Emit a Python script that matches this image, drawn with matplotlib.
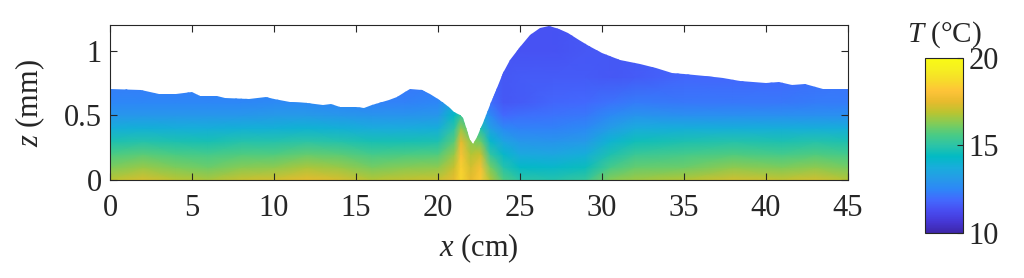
import numpy as np
import matplotlib
matplotlib.use("Agg")
import matplotlib.pyplot as plt
from matplotlib.colors import LinearSegmentedColormap
from matplotlib.patches import Polygon

plt.rcParams['font.family'] = ['Liberation Serif', 'DejaVu Serif']
plt.rcParams['mathtext.fontset'] = 'custom'
plt.rcParams['mathtext.rm'] = 'Liberation Serif'
plt.rcParams['mathtext.it'] = 'Liberation Serif:italic'

# free surface h(x) in mm
surf_x = [0, 1.9, 3, 4, 5, 5.5, 6.5, 7, 8.5, 9.5, 10, 11, 12, 13, 13.5, 14, 15, 15.5,
          16, 17, 17.5, 18, 18.3, 19, 19.5, 20, 20.4, 20.73, 21.0, 21.34, 21.54, 21.75,
          21.95, 22.15, 22.4, 22.76, 23.17, 23.58, 23.98, 24.39, 25, 25.6, 26.2, 26.8,
          27.4, 27.9, 28.6, 29.2, 30, 31.1, 32.3, 33.3, 34.3, 35, 36.3, 37.4, 38.4, 40,
          40.8, 41.6, 42.4, 43.5, 45]
surf_h = [0.703, 0.698, 0.664, 0.667, 0.685, 0.654, 0.651, 0.638, 0.630, 0.646, 0.628,
          0.607, 0.594, 0.579, 0.587, 0.568, 0.568, 0.560, 0.579, 0.620, 0.641, 0.682,
          0.703, 0.694, 0.667, 0.628, 0.590, 0.556, 0.525, 0.504, 0.478, 0.388, 0.310,
          0.279, 0.330, 0.440, 0.580, 0.710, 0.827, 0.930, 1.033, 1.124, 1.176, 1.190,
          1.170, 1.137, 1.085, 1.040, 0.982, 0.930, 0.897, 0.866, 0.832, 0.819, 0.806,
          0.793, 0.767, 0.754, 0.762, 0.736, 0.741, 0.708, 0.703]

# temperature (deg C) at stations x_T (cm) and heights z_T (mm)
x_T = [0, 2, 4, 6, 8, 10, 12, 14, 16, 18, 20, 21, 21.4, 22, 22.6, 23.2, 24, 25, 27,
       29, 30.5, 32, 35, 38, 41, 43, 45]
z_T = [0, 0.1, 0.2, 0.3, 0.4, 0.5, 0.6, 0.8, 1.0, 1.2]
T_z00 = [16.9, 17.3, 16.9, 16.7, 17.1, 17.2, 17.5, 17.3, 16.8, 17.0, 17.1, 17.6, 18.6, 17.5,
         18.3, 16.8, 15.7, 15.0, 14.9, 15.2, 16.3, 16.6, 16.8, 17.2, 17.0, 17.2, 16.8]
T_z01 = [16.2, 16.5, 16.2, 16.0, 16.3, 16.4, 16.7, 16.5, 16.1, 16.3, 16.4, 17.1, 18.4, 17.2,
         17.9, 16.1, 14.9, 14.3, 14.2, 14.5, 15.5, 15.9, 16.0, 16.4, 16.2, 16.4, 16.1]
T_z02 = [15.6, 15.8, 15.6, 15.5, 15.7, 15.7, 15.9, 15.8, 15.5, 15.6, 15.7, 16.5, 18.0, 16.8,
         17.1, 15.1, 14.2, 13.6, 13.5, 13.8, 14.8, 15.3, 15.5, 15.7, 15.5, 15.7, 15.5]
T_z03 = [14.8, 14.9, 14.8, 14.7, 14.9, 14.9, 15.0, 14.9, 14.7, 14.7, 14.8, 15.8, 17.5, 16.4,
         16.0, 14.2, 13.4, 13.0, 12.9, 13.1, 14.0, 14.6, 14.8, 14.9, 14.8, 14.9, 14.8]
T_z04 = [13.8, 13.9, 13.8, 13.8, 13.9, 13.9, 14.0, 13.9, 13.7, 13.7, 13.8, 15.0, 16.5, 15.5,
         14.8, 13.3, 12.6, 12.4, 12.4, 12.6, 13.2, 13.7, 13.8, 13.8, 13.8, 13.8, 13.8]
T_z05 = [13.0, 13.0, 13.0, 13.0, 13.0, 13.1, 13.1, 13.0, 12.9, 12.9, 13.0, 14.4, 15.2, 14.5,
         13.8, 12.6, 11.9, 12.0, 12.1, 12.2, 12.6, 12.9, 12.8, 12.8, 12.8, 12.8, 12.8]
T_z06 = [12.5, 12.5, 12.5, 12.5, 12.5, 12.6, 12.6, 12.5, 12.4, 12.4, 12.5, 13.6, 14.0, 13.5,
         13.0, 12.0, 11.5, 11.6, 11.8, 11.9, 12.1, 12.3, 12.2, 12.2, 12.2, 12.3, 12.3]
T_z08 = [12.2, 12.2, 12.2, 12.2, 12.2, 12.3, 12.3, 12.2, 12.2, 12.1, 12.2, 12.8, 13.0, 12.8,
         12.4, 11.8, 11.5, 11.6, 11.6, 11.6, 11.5, 11.6, 11.8, 11.8, 11.9, 12.0, 12.1]
T_z10 = [12.0, 12.0, 12.0, 12.0, 12.0, 12.0, 12.0, 12.0, 12.0, 12.0, 12.0, 12.2, 12.3, 12.2,
         12.0, 11.7, 11.5, 11.4, 11.4, 11.5, 11.5, 11.6, 11.7, 11.7, 11.8, 11.9, 12.0]
T_z12 = [12.0, 12.0, 12.0, 12.0, 12.0, 12.0, 12.0, 12.0, 12.0, 12.0, 12.0, 12.0, 12.0, 12.0,
         11.9, 11.6, 11.4, 11.4, 11.4, 11.5, 11.5, 11.6, 11.7, 11.7, 11.8, 11.9, 12.0]

# MATLAB parula (R2014b)
parula_pts = [
    (0.2422, 0.1504, 0.6603), (0.2706, 0.2147, 0.8364), (0.2813, 0.3006, 0.9414),
    (0.2602, 0.4123, 0.9952), (0.1786, 0.5289, 0.9682), (0.1460, 0.6091, 0.9079),
    (0.0952, 0.6798, 0.8598), (0.0067, 0.7312, 0.7660), (0.1717, 0.7670, 0.6554),
    (0.2906, 0.7973, 0.5188), (0.5044, 0.7993, 0.3480), (0.7242, 0.7698, 0.1910),
    (0.9035, 0.7330, 0.1774), (0.9970, 0.7659, 0.2199), (0.9676, 0.8639, 0.1643),
    (0.9628, 0.9373, 0.1265), (0.9769, 0.9839, 0.0805)]
parula = LinearSegmentedColormap.from_list('parula', parula_pts, N=256)

ink = '#262626'
fig = plt.figure(figsize=(10.24, 2.78), dpi=100)
ax = fig.add_axes([0.1074, 0.3525, 0.7207, 0.5576])
cax = fig.add_axes([0.9033, 0.1619, 0.0371, 0.6295])

T = np.array([T_z00, T_z01, T_z02, T_z03, T_z04, T_z05, T_z06, T_z08, T_z10, T_z12])
mesh = ax.pcolormesh(x_T, z_T, T, shading='gouraud', cmap=parula, vmin=10, vmax=20)
film = Polygon([(surf_x[0], 0)] + list(zip(surf_x, surf_h)) + [(surf_x[-1], 0)],
               closed=True, transform=ax.transData, facecolor='none', edgecolor='none')
ax.add_patch(film)
mesh.set_clip_path(film)

ax.set_xlim(0, 45)
ax.set_ylim(0, 1.2)
ax.set_xticks(np.arange(0, 46, 5))
ax.set_yticks([0, 0.5, 1])
ax.set_yticklabels(['0', '0.5', '1'])
ax.tick_params(direction='in', top=True, right=True, length=5, width=0.8,
               labelsize=22, colors=ink, pad=6)
ax.tick_params(axis='x', pad=10)
for s in ax.spines.values():
    s.set_color(ink)
    s.set_linewidth(0.8)
ax.set_xlabel(r'$x$ (cm)', fontsize=22, color=ink, labelpad=6)
ax.set_ylabel(r'$z$ (mm)', fontsize=22, color=ink, labelpad=12)

cb = fig.colorbar(mesh, cax=cax, ticks=[10, 15, 20])
cb.outline.set_edgecolor(ink)
cb.outline.set_linewidth(0.8)
cax.tick_params(direction='in', length=4, width=0.8, labelsize=22, colors=ink, pad=4)
cax.set_title(r'$T$ (°C)', fontsize=21, color=ink, pad=12)

fig.savefig('out.png', dpi=100)
